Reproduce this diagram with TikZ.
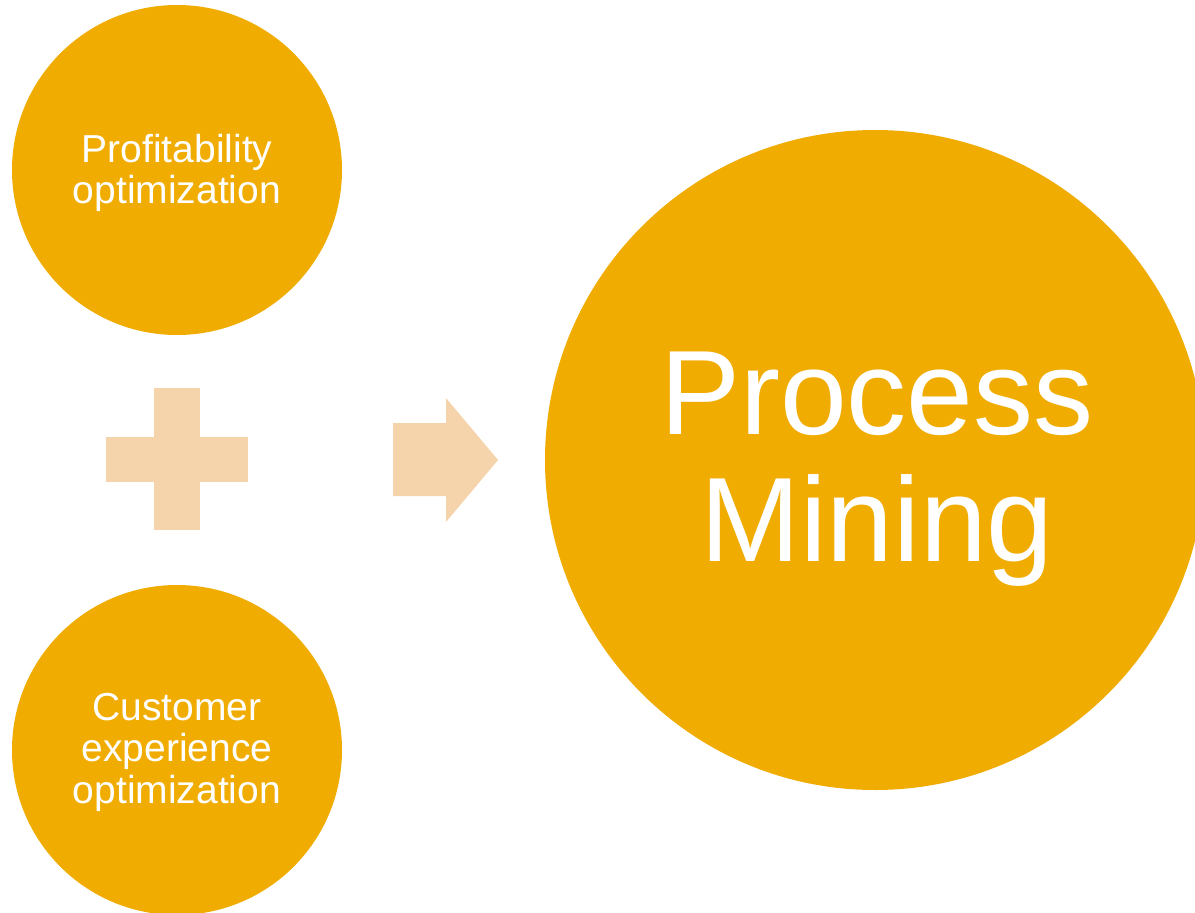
\documentclass[tikz,border=0pt]{standalone}
\usepackage{fontspec}
\setmainfont{Liberation Sans}
\definecolor{gold}{RGB}{240,172,0}
\definecolor{peach}{RGB}{245,211,171}
\begin{document}
\begin{tikzpicture}[x=1pt,y=-1pt,
  bubble/.style={circle,fill=gold,draw=none,inner sep=0pt},
  txt/.style={text=white,align=center,inner sep=0pt},
  smalltxt/.style={txt,font=\fontsize{39}{41.5}\selectfont},
  bigtxt/.style={txt,font=\fontsize{120}{127}\selectfont}]
\useasboundingbox (0,0) rectangle (1195,913);
\clip (0,0) rectangle (1195,913);
\node[bubble,minimum size=330pt] (profit) at (177,170) {};
\node[smalltxt] (profittxt) at ([yshift=-3pt]profit.center) {Profitability\\optimization};
\node[bubble,minimum size=330pt] (cust) at (177,750) {};
\node[smalltxt] (custtxt) at ([yshift=-2pt]cust.center) {Customer\\experience\\optimization};
\node[bubble,minimum size=660pt] (pm) at (875,460) {};
\node[bigtxt] (pmtxt) at ([xshift=2pt,yshift=-9pt]pm.center) {Process\\Mining};
\coordinate (plus) at (177,459);
\fill[peach] (154,388) rectangle (200,530);
\fill[peach] (106,437) rectangle (248,482);
\coordinate (arr) at (445,460);
\fill[peach] (393,423) -- (446,423) -- (446,398) -- (498,460) -- (446,522) -- (446,496) -- (393,496) -- cycle;
\end{tikzpicture}
\end{document}
